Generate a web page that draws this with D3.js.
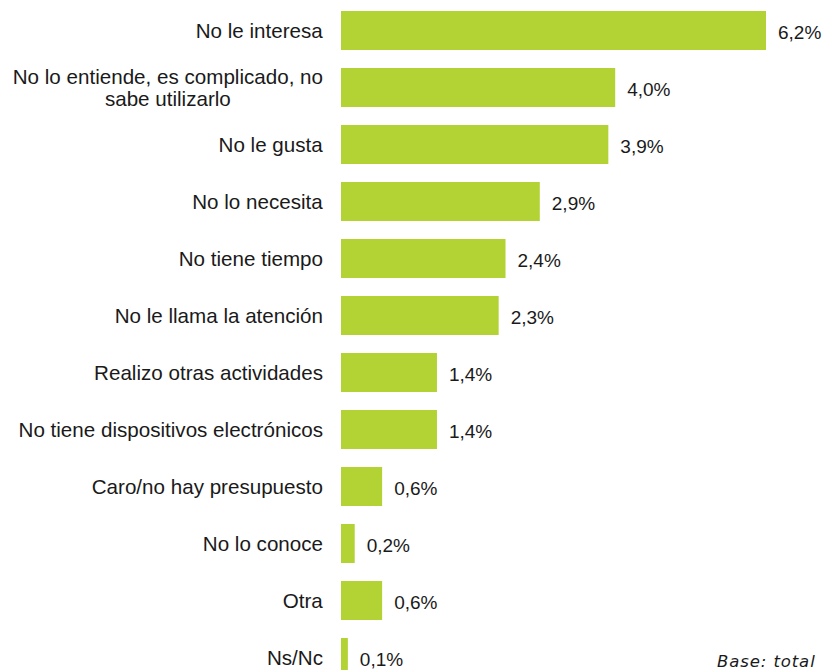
<!DOCTYPE html>
<html>
<head>
<meta charset="utf-8">
<script src="https://cdn.jsdelivr.net/npm/d3@7"></script>
<style>
  body { margin: 0; background: #fff; }
  svg text { font-family: Arial, "Liberation Sans", sans-serif; fill: #1a1a1a; }
</style>
</head>
<body>
<div class="chart"></div>
<script>
var categories = [
  "No le interesa",
  "No lo entiende, es complicado, no|sabe utilizarlo",
  "No le gusta",
  "No lo necesita",
  "No tiene tiempo",
  "No le llama la atención",
  "Realizo otras actividades",
  "No tiene dispositivos electrónicos",
  "Caro/no hay presupuesto",
  "No lo conoce",
  "Otra",
  "Ns/Nc"
];
var values = [6.2, 4.0, 3.9, 2.9, 2.4, 2.3, 1.4, 1.4, 0.6, 0.2, 0.6, 0.1];
var valueLabels = ["6,2%", "4,0%", "3,9%", "2,9%", "2,4%", "2,3%", "1,4%", "1,4%", "0,6%", "0,2%", "0,6%", "0,1%"];
var footnote = "Base: total";

var width = 832,
    height = 670;

var svg = d3.select(".chart").append("svg")
    .attr("width", width)
    .attr("height", height);

// band step ~57px, first band starts at 2
var y = d3.scaleBand()
    .domain(d3.range(categories.length))
    .range([2, 2 + 57 * categories.length])
    .paddingInner(0.316)
    .paddingOuter(0.158);

var x = d3.scaleLinear()
    .domain([0, 6.2])
    .range([341, 766]);

svg.append("g")
    .selectAll("rect")
    .data(values)
    .enter().append("rect")
        .attr("x", x(0))
        .attr("y", function(d, i) { return y(i); })
        .attr("width", function(d) { return x(d) - x(0); })
        .attr("height", y.bandwidth())
        .attr("fill", "#b3d335");

// value labels
svg.append("g")
    .selectAll("text")
    .data(values)
    .enter().append("text")
        .attr("x", function(d) { return x(d) + 12; })
        .attr("y", function(d, i) { return y(i) + y.bandwidth() / 2 + 2; })
        .attr("dy", "0.35em")
        .attr("font-size", 19)
        .text(function(d, i) { return valueLabels[i]; });

// category labels, right edge at 323, multi-line ones centered on each other
var labelRight = 323;
var lab = svg.append("g");
categories.forEach(function(c, i) {
  var lines = c.split("|");
  var cy = y(i) + y.bandwidth() / 2;
  var t = lab.append("text")
      .attr("font-size", 20.6)
      .attr("text-anchor", "middle");
  lines.forEach(function(l, k) {
    t.append("tspan")
      .attr("x", 0)
      .attr("y", cy + (k - (lines.length - 1) / 2) * 22)
      .attr("dy", "0.35em")
      .text(l);
  });
  var w = t.node().getBBox().width;
  t.selectAll("tspan").attr("x", labelRight - w / 2);
});

svg.append("text")
    .attr("x", 717)
    .attr("y", 667)
    .attr("font-size", 16.5)
    .attr("font-style", "italic")
    .attr("letter-spacing", 0.9)
    .style("font-family", "'DejaVu Sans', Verdana, sans-serif")
    .text(footnote);
</script>
</body>
</html>
